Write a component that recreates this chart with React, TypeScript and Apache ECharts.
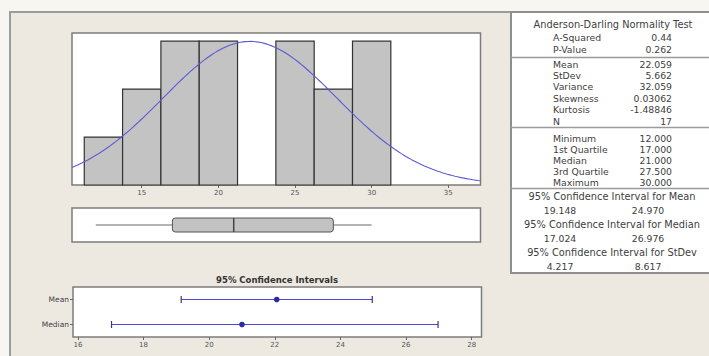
import React, { useEffect, useRef } from "react";
import * as echarts from "echarts";

// ---------- data ----------
const binStarts = [11.25, 13.75, 16.25, 18.75, 21.25, 23.75, 26.25, 28.75];
const binWidth = 2.5;
const binCounts = [1, 2, 3, 3, 0, 3, 2, 3];
const histTicks = [15, 20, 25, 30, 35];

const fitMean = 22.059;
const fitStDev = 5.662;
const sampleN = 17;

// five-number summary: min, Q1, median, Q3, max
const boxStats = [12, 17, 21, 27.5, 30];

const ciCategories = ["Mean", "Median"];
const ciLow = [19.148, 17.024];
const ciEst = [22.059, 21.0];
const ciHigh = [24.97, 26.976];
const ciTicks = [16, 18, 20, 22, 24, 26, 28];

const adLabels = ["A-Squared", "P-Value"];
const adValues = ["0.44", "0.262"];
const descLabels = ["Mean", "StDev", "Variance", "Skewness", "Kurtosis", "N"];
const descValues = ["22.059", "5.662", "32.059", "0.03062", "-1.48846", "17"];
const quantLabels = ["Minimum", "1st Quartile", "Median", "3rd Quartile", "Maximum"];
const quantValues = ["12.000", "17.000", "21.000", "27.500", "30.000"];
const ciTitles = [
  "95% Confidence Interval for Mean",
  "95% Confidence Interval for Median",
  "95% Confidence Interval for StDev",
];
const ciTableLow = ["19.148", "17.024", "4.217"];
const ciTableHigh = ["24.970", "26.976", "8.617"];

// ---------- helpers ----------
const FONT = "DejaVu Sans";
const TXT = "#404040";

function buildTable(): any[] {
  const els: any[] = [];
  const x0 = 511;
  const labelX = 553;
  const valueX = 672;
  els.push({
    type: "rect",
    shape: { x: x0, y: 12, width: 210, height: 261 },
    style: { fill: "#ffffff", stroke: "#8e8e8e", lineWidth: 2 },
    z: -5,
  });
  [57.5, 127.5, 188.5].forEach((y) =>
    els.push({
      type: "line",
      shape: { x1: x0, y1: y, x2: 709, y2: y },
      style: { stroke: "#9a9a9a", lineWidth: 1.6 },
      z: -4,
    })
  );
  const txt = (s: string, x: number, y: number, align: string, size = 9.3) => ({
    type: "text",
    x,
    y,
    style: {
      text: s,
      fill: TXT,
      font: `${size}px "${FONT}"`,
      align,
      verticalAlign: "middle",
    },
  });
  els.push(txt("Anderson-Darling Normality Test", 613, 24, "center", 9.8));
  adLabels.forEach((l, i) => {
    els.push(txt(l, labelX, 37 + i * 12.5, "left"));
    els.push(txt(adValues[i], valueX, 37 + i * 12.5, "right"));
  });
  descLabels.forEach((l, i) => {
    els.push(txt(l, labelX, 64 + i * 11.4, "left"));
    els.push(txt(descValues[i], valueX, 64 + i * 11.4, "right"));
  });
  quantLabels.forEach((l, i) => {
    els.push(txt(l, labelX, 138.5 + i * 11, "left"));
    els.push(txt(quantValues[i], valueX, 138.5 + i * 11, "right"));
  });
  ciTitles.forEach((t, i) => {
    const y = 196 + i * 28;
    els.push(txt(t, 612, y, "center", 9.8));
    els.push(txt(ciTableLow[i], 560, y + 14, "center"));
    els.push(txt(ciTableHigh[i], 648, y + 14, "center"));
  });
  return els;
}

export default function App() {
  const ref = useRef<HTMLDivElement>(null);

  useEffect(() => {
    document.body.style.margin = "0";
    const chart = echarts.init(ref.current!, null, { renderer: "svg" });

    const histData = binStarts.map((s, i) => [s, s + binWidth, binCounts[i]]);

    // fitted normal curve (count scale) from the reported mean / stdev
    const xMin = 10.45;
    const xMax = 37.1;
    const curve: number[][] = [];
    for (let k = 0; k <= 160; k++) {
      const x = xMin + ((xMax - xMin) * k) / 160;
      const z = (x - fitMean) / fitStDev;
      const y =
        (sampleN * binWidth * Math.exp(-0.5 * z * z)) /
        (fitStDev * Math.sqrt(2 * Math.PI));
      curve.push([x, y]);
    }

    const ciData = ciCategories.map((c, i) => [ciLow[i], ciEst[i], ciHigh[i], i]);

    const axisLabelStyle = { fontSize: 7, color: "#555", fontFamily: FONT };

    const option: any = {
      animation: false,
      backgroundColor: "#f8f6f1",
      grid: [
        {
          left: 72, top: 33, width: 408.5, height: 152,
          show: true, backgroundColor: "#ffffff", borderColor: "#7c7c7c", borderWidth: 1.5,
        },
        {
          left: 72, top: 208, width: 408.5, height: 34,
          show: true, backgroundColor: "#ffffff", borderColor: "#7c7c7c", borderWidth: 1.5,
        },
        {
          left: 73, top: 287, width: 408.5, height: 50,
          show: true, backgroundColor: "#ffffff", borderColor: "#7c7c7c", borderWidth: 1.5,
        },
      ],
      xAxis: [
        {
          type: "value", gridIndex: 0, min: xMin, max: xMax,
          axisLine: { show: false },
          splitLine: { show: false },
          axisTick: { show: true, length: 3, customValues: histTicks, lineStyle: { color: "#666" } },
          axisLabel: { ...axisLabelStyle, margin: 4, customValues: histTicks },
        },
        {
          type: "value", gridIndex: 1, min: xMin, max: xMax,
          axisLine: { show: false }, splitLine: { show: false },
          axisTick: { show: false }, axisLabel: { show: false },
        },
        {
          type: "value", gridIndex: 2, min: 15.85, max: 28.3,
          axisLine: { show: false }, splitLine: { show: false },
          axisTick: { show: true, length: 3, customValues: ciTicks, lineStyle: { color: "#666" } },
          axisLabel: { ...axisLabelStyle, margin: 4, customValues: ciTicks },
        },
      ],
      yAxis: [
        { type: "value", gridIndex: 0, min: 0, max: 3.17, show: false },
        { type: "category", gridIndex: 1, data: ["box"], show: false },
        {
          type: "category", gridIndex: 2, data: ciCategories, inverse: true,
          axisLine: { show: false },
          axisTick: { show: true, length: 3, alignWithLabel: true, lineStyle: { color: "#666" } },
          axisLabel: { fontSize: 7.5, color: "#444", fontFamily: FONT, margin: 4 },
        },
      ],
      graphic: [
        {
          type: "rect",
          shape: { x: 10, y: 12, width: 720, height: 360 },
          style: { fill: "#ede9e1", stroke: "#9c9c9c", lineWidth: 2 },
          z: -10,
        },
        ...buildTable(),
        {
          type: "text",
          x: 277,
          y: 280,
          style: {
            text: "95% Confidence Intervals",
            fill: "#333",
            font: `bold 8.5px "${FONT}"`,
            align: "center",
            verticalAlign: "middle",
          },
        },
      ],
      series: [
        {
          type: "custom",
          xAxisIndex: 0, yAxisIndex: 0,
          data: histData,
          encode: { x: [0, 1], y: 2 },
          renderItem: (params: any, api: any) => {
            const c = api.value(2);
            if (!c) return null;
            const p0 = api.coord([api.value(0), c]);
            const p1 = api.coord([api.value(1), 0]);
            return {
              type: "rect",
              shape: { x: p0[0], y: p0[1], width: p1[0] - p0[0], height: p1[1] - p0[1] },
              style: { fill: "#c3c3c3", stroke: "#333333", lineWidth: 1.2 },
            };
          },
          z: 2,
        },
        {
          type: "line",
          xAxisIndex: 0, yAxisIndex: 0,
          data: curve,
          showSymbol: false,
          smooth: false,
          lineStyle: { color: "#5b5bd6", width: 1.1 },
          z: 3,
        },
        {
          type: "custom",
          xAxisIndex: 1, yAxisIndex: 1,
          data: [[...boxStats, 0]],
          renderItem: (params: any, api: any) => {
            const yc = api.coord([api.value(0), 0])[1];
            const h = 14;
            const pMin = api.coord([api.value(0), 0])[0];
            const pQ1 = api.coord([api.value(1), 0])[0];
            const pMed = api.coord([api.value(2), 0])[0];
            const pQ3 = api.coord([api.value(3), 0])[0];
            const pMax = api.coord([api.value(4), 0])[0];
            return {
              type: "group",
              children: [
                { type: "line", shape: { x1: pMin, y1: yc, x2: pQ1, y2: yc }, style: { stroke: "#6a6a6a", lineWidth: 1 } },
                { type: "line", shape: { x1: pQ3, y1: yc, x2: pMax, y2: yc }, style: { stroke: "#6a6a6a", lineWidth: 1 } },
                {
                  type: "rect",
                  shape: { x: pQ1, y: yc - h / 2, width: pQ3 - pQ1, height: h, r: 3 },
                  style: { fill: "#c2c2c2", stroke: "#555", lineWidth: 1 },
                },
                { type: "line", shape: { x1: pMed, y1: yc - h / 2, x2: pMed, y2: yc + h / 2 }, style: { stroke: "#444", lineWidth: 1.5 } },
              ],
            };
          },
        },
        {
          type: "custom",
          xAxisIndex: 2, yAxisIndex: 2,
          data: ciData,
          encode: { x: [0, 1, 2], y: 3 },
          renderItem: (params: any, api: any) => {
            const row = api.value(3);
            const pl = api.coord([api.value(0), row]);
            const pe = api.coord([api.value(1), row]);
            const ph = api.coord([api.value(2), row]);
            const y = pl[1];
            const cap = 3.5;
            const col = "#4b4bd0";
            return {
              type: "group",
              children: [
                { type: "line", shape: { x1: pl[0], y1: y, x2: ph[0], y2: y }, style: { stroke: col, lineWidth: 1 } },
                { type: "line", shape: { x1: pl[0], y1: y - cap, x2: pl[0], y2: y + cap }, style: { stroke: "#3a3a7a", lineWidth: 1.2 } },
                { type: "line", shape: { x1: ph[0], y1: y - cap, x2: ph[0], y2: y + cap }, style: { stroke: "#3a3a7a", lineWidth: 1.2 } },
                { type: "circle", shape: { cx: pe[0], cy: y, r: 2.8 }, style: { fill: "#2a2aa8" } },
              ],
            };
          },
        },
      ],
    };

    chart.setOption(option);
    return () => chart.dispose();
  }, []);

  return (
    <div
      ref={ref}
      style={{ position: "absolute", left: 0, top: 0, width: 709, height: 356 }}
    />
  );
}
